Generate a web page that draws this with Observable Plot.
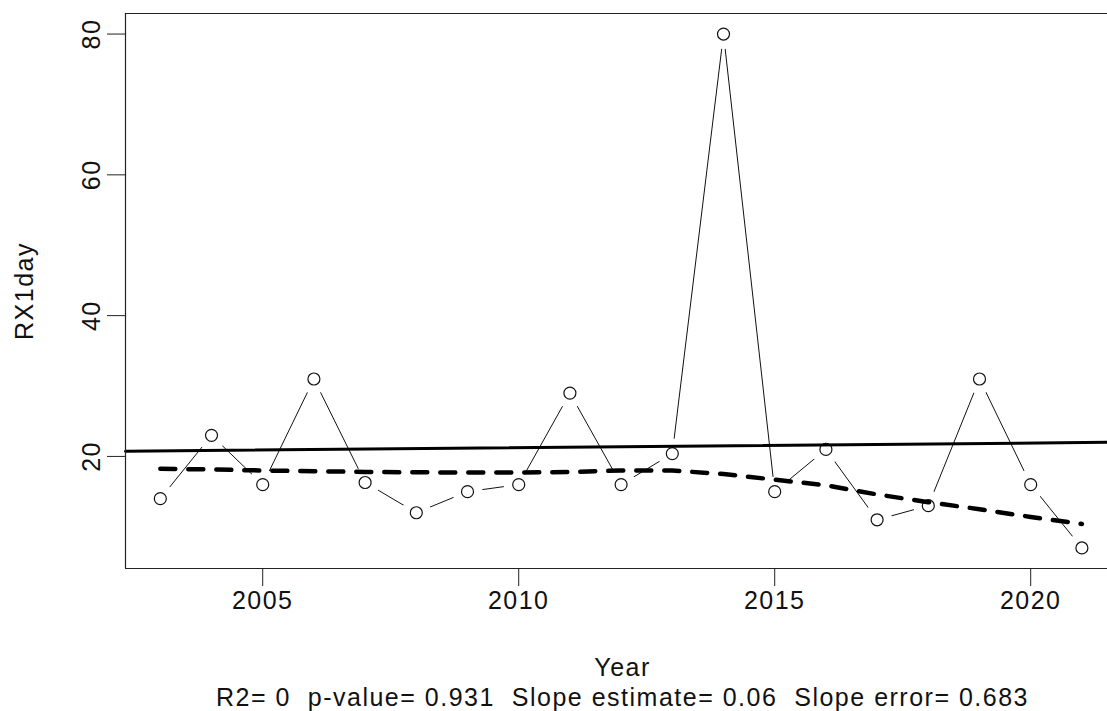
<!DOCTYPE html>
<html><head><meta charset="utf-8">
<script src="https://cdn.jsdelivr.net/npm/d3@7"></script>
<script src="https://cdn.jsdelivr.net/npm/@observablehq/plot@0.6"></script>
<style>html,body{margin:0;padding:0;background:#fff} svg{display:block} svg text{letter-spacing:1.5px}</style>
</head><body><div id="chart"></div>
<script>
const years = [2003, 2004, 2005, 2006, 2007, 2008, 2009, 2010, 2011, 2012, 2013, 2014, 2015, 2016, 2017, 2018, 2019, 2020, 2021];
const rx1day = [14, 23, 16, 31, 16.3, 12, 15, 16, 29, 16, 20.4, 80, 15, 21, 11, 13, 31, 16, 7];
const lowessFit = [18.25, 18.15, 18.0, 17.9, 17.8, 17.75, 17.7, 17.7, 17.8, 18.0, 18.0, 17.5, 16.7, 15.9, 14.6, 13.5, 12.5, 11.4, 10.4];
const trendYears = [2002.32, 2021.5];
const trendValues = [20.75, 22.0];
const xTicks = [2005, 2010, 2015, 2020];
const yTicks = [20, 40, 60, 80];
const xDomain = [2002.32, 2021.5];
const yDomain = [4.08, 82.92];
const xLabel = "Year";
const yLabel = "RX1day";
const caption = "R2= 0  p-value= 0.931  Slope estimate= 0.06  Slope error= 0.683";

const points = years.map((year, i) => ({year, value: rx1day[i]}));
const smooth = years.map((year, i) => ({year, value: lowessFit[i]}));
const trend = trendYears.map((year, i) => ({year, value: trendValues[i]}));
const fs = 25;

const chart = Plot.plot({
  width: 1107, height: 711,
  marginLeft: 125, marginRight: 0, marginTop: 13, marginBottom: 143,
  x: {domain: xDomain},
  y: {domain: yDomain},
  style: {fontFamily: "'Liberation Sans', Arial, sans-serif", background: "#fff", color: "#111"},
  marks: [
    Plot.line(points, {x: "year", y: "value", stroke: "#111", strokeWidth: 1}),
    Plot.dot(points, {x: "year", y: "value", r: 15, fill: "#fff", stroke: "none"}),
    Plot.dot(points, {x: "year", y: "value", r: 6, fill: "none", stroke: "#111", strokeWidth: 1.2}),
    Plot.line(trend, {x: "year", y: "value", stroke: "#000", strokeWidth: 3}),
    Plot.line(smooth, {x: "year", y: "value", stroke: "#000", strokeWidth: 4.5, strokeDasharray: "15,13", curve: "linear"}),
    Plot.ruleX([xDomain[0]], {stroke: "#222", strokeWidth: 1.2}),
    Plot.ruleY([yDomain[0], yDomain[1]], {stroke: "#222", strokeWidth: 1.2}),
    Plot.axisX({ticks: xTicks, tickSize: 18, tickPadding: 5, tickFormat: "d", fontSize: fs, label: null, stroke: "#222"}),
    Plot.axisY({ticks: yTicks, tickSize: 18, tickFormat: () => "", label: null, stroke: "#222"}),
    Plot.text(yTicks, {y: d => d, frameAnchor: "left", dx: -34, rotate: -90, text: d => String(d), fontSize: fs, textAnchor: "middle", lineAnchor: "middle"}),
    Plot.text([yLabel], {frameAnchor: "left", dx: -101, rotate: -90, text: d => d, fontSize: fs, textAnchor: "middle", lineAnchor: "middle"}),
    Plot.text([xLabel], {frameAnchor: "bottom", dx: 6, dy: 99, text: d => d, fontSize: fs, lineAnchor: "middle"}),
    Plot.text([caption], {frameAnchor: "bottom", dx: 6, dy: 129, text: d => d, fontSize: fs, lineAnchor: "middle"})
  ]
});
document.getElementById("chart").appendChild(chart);
</script>
</body></html>
